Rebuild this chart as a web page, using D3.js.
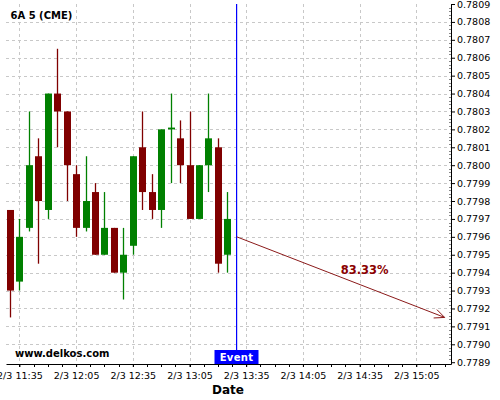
<!DOCTYPE html>
<html><head><meta charset="utf-8">
<script src="https://cdn.jsdelivr.net/npm/d3@7"></script>
<style>
html,body{margin:0;padding:0;background:#fff;}
svg{display:block;font-family:"DejaVu Sans",sans-serif;}
</style></head>
<body><svg id="c" width="500" height="400"></svg>
<script>
// ---- data ----
const title = "6A 5 (CME)";
const watermark = "www.delkos.com";
const times = ["11:30","11:35","11:40","11:45","11:50","11:55","12:00","12:05","12:10","12:15","12:20","12:25",
               "12:30","12:35","12:40","12:45","12:50","12:55","13:00","13:05","13:10","13:15","13:20","13:25"];
const opens  = [0.77975,0.77935,0.77965,0.78005,0.77975,0.78040,0.78030,0.77995,0.77965,0.77985,0.77950,0.77965,
                0.77940,0.77955,0.78010,0.77985,0.77975,0.78020,0.78015,0.78000,0.77970,0.78000,0.78010,0.77950];
const highs  = [0.77975,0.77970,0.78030,0.78015,0.78040,0.78065,0.78030,0.78000,0.78005,0.77990,0.77985,0.77965,
                0.77965,0.78005,0.78030,0.77995,0.78020,0.78040,0.78025,0.78030,0.78000,0.78040,0.78015,0.77985];
const lows   = [0.77915,0.77930,0.77963,0.77945,0.77970,0.78010,0.77980,0.77960,0.77963,0.77950,0.77950,0.77940,
                0.77925,0.77950,0.77975,0.77970,0.77965,0.77990,0.77990,0.77970,0.77970,0.77985,0.77940,0.77940];
const closes = [0.77930,0.77960,0.78000,0.77980,0.78040,0.78030,0.78000,0.77965,0.77980,0.77950,0.77965,0.77940,
                0.77950,0.78005,0.77985,0.77975,0.78020,0.78021,0.78000,0.77970,0.78000,0.78015,0.77945,0.77970];
const eventTime = "13:30";
const eventLabel = "Event";
const arrowStart = {time:"13:30", value:0.77960};
const arrowEnd   = {time:"15:20", value:0.77915};
const arrowLabel = "83.33%";
const xTickLabels = ["11:35","12:05","12:35","13:05","13:35","14:05","14:35","15:05"];
const yTickValues = [0.7789,0.7790,0.7791,0.7792,0.7793,0.7794,0.7795,0.7796,0.7797,0.7798,0.7799,
                     0.7800,0.7801,0.7802,0.7803,0.7804,0.7805,0.7806,0.7807,0.7808,0.7809];
const xDomain = ["11:27:54","15:23:22"];
const yDomain = [0.77889, 0.78090];

// ---- helpers ----
const day = (s)=>{const p=s.split(":").map(Number);return new Date(2015,1,3,p[0],p[1],p[2]||0);};
const plot={left:6,right:451,top:4,bottom:364};
const svg=d3.select("#c");
const x=d3.scaleTime().domain(xDomain.map(day)).range([plot.left,plot.right]);
const y=d3.scaleLinear().domain(yDomain).range([plot.bottom,plot.top]);
const RED="#800000", GREEN="#008000";

// grid
const grid=svg.append("g").attr("stroke","#c8c8c8").attr("stroke-dasharray","3,3").attr("stroke-width",1);
yTickValues.filter(v=>v>0.77895 && v<0.78085).forEach(v=>{
  const yy=Math.round(y(v))+0.5;
  grid.append("line").attr("x1",plot.left).attr("x2",plot.right).attr("y1",yy).attr("y2",yy);
});
xTickLabels.forEach(t=>{
  const xx=Math.round(x(day(t)))+0.5;
  grid.append("line").attr("x1",xx).attr("x2",xx).attr("y1",plot.top).attr("y2",plot.bottom);
});

// candles
const data=times.map((t,i)=>({t:day(t),o:opens[i],h:highs[i],l:lows[i],c:closes[i]}));
const bw=7;
const cg=svg.append("g");
data.forEach(d=>{
  const col=d.c>=d.o?GREEN:RED;
  const cx=Math.round(x(d.t))+0.5;
  cg.append("line").attr("x1",cx).attr("x2",cx).attr("y1",y(d.h)).attr("y2",y(d.l))
    .attr("stroke",col).attr("stroke-width",1.3);
  const top=y(Math.max(d.o,d.c)), bot=y(Math.min(d.o,d.c));
  cg.append("rect").attr("x",cx-bw/2).attr("width",bw).attr("y",top)
    .attr("height",Math.max(1.2,bot-top)).attr("fill",col);
});

// event line
const ex=Math.round(x(day(eventTime)))-0.5;
svg.append("rect").attr("x",ex-0.5).attr("y",plot.top).attr("width",1.2).attr("height",plot.bottom-plot.top)
  .attr("fill","#0000ff");

// arrow
const ax1=x(day(arrowStart.time)), ay1=y(arrowStart.value);
const ax2=x(day(arrowEnd.time)), ay2=y(arrowEnd.value);
const AC="#8b1a1a";
svg.append("line").attr("x1",ax1).attr("y1",ay1).attr("x2",ax2).attr("y2",ay2)
  .attr("stroke",AC).attr("stroke-width",1);
const ang=Math.atan2(ay2-ay1,ax2-ax1), hl=11, ha=0.42;
svg.append("path").attr("d",`M${ax2-hl*Math.cos(ang-ha)},${ay2-hl*Math.sin(ang-ha)}L${ax2},${ay2}L${ax2-hl*Math.cos(ang+ha)},${ay2-hl*Math.sin(ang+ha)}`)
  .attr("fill","none").attr("stroke",AC).attr("stroke-width",1);
svg.append("text").attr("x",(ax1+ax2)/2+24).attr("y",(ay1+ay2)/2-3).attr("text-anchor","middle")
  .attr("font-size","11.5px").attr("font-weight","bold").attr("fill","#8b0000").text(arrowLabel);

// y axis
const yAxis=d3.axisRight(y).tickValues(yTickValues).tickFormat(d3.format(".4f")).tickSize(4).tickPadding(2).tickSizeOuter(0);
const yg=svg.append("g").attr("transform",`translate(${plot.right},0)`).call(yAxis);
yg.select(".domain").attr("stroke","#000");
yg.selectAll("text").attr("font-size","9.5px").attr("font-family","DejaVu Sans").attr("fill","#000");
const yMinor=d3.range(Math.round(yDomain[0]*1e5)+1,Math.round(yDomain[1]*1e5)).filter(v=>v%2===0&&v%10!==0).map(v=>v/1e5);
yMinor.forEach(v=>{
  const yy=Math.round(y(v))+0.5;
  svg.append("line").attr("x1",plot.right-2).attr("x2",plot.right).attr("y1",yy).attr("y2",yy).attr("stroke","#888");
});

// x axis
const fmt=(d)=>`${d.getMonth()+1}/${d.getDate()} ${d3.timeFormat("%H:%M")(d)}`;
const xAxis=d3.axisBottom(x).tickValues(xTickLabels.map(day)).tickFormat(fmt).tickSize(3).tickPadding(5).tickSizeOuter(0);
const xg=svg.append("g").attr("transform",`translate(0,${plot.bottom})`).call(xAxis);
xg.select(".domain").attr("stroke","#000");
xg.selectAll("text").attr("font-size","9.5px").attr("font-family","DejaVu Sans").attr("fill","#000");
const xMinor=d3.range(0,32).map(i=>new Date(day("11:35").getTime()+i*450000)).filter(d=>x(d)<plot.right&&x(d)>plot.left);
xMinor.forEach(d=>{
  const xx=Math.round(x(d))+0.5;
  svg.append("line").attr("x1",xx).attr("x2",xx).attr("y1",plot.bottom).attr("y2",plot.bottom+3).attr("stroke","#000");
});

// event box
const eb=svg.append("g");
eb.append("rect").attr("x",ex-22).attr("y",plot.bottom-14).attr("width",44).attr("height",14).attr("fill","#0000ff");
eb.append("text").attr("x",ex).attr("y",plot.bottom-3.3).attr("text-anchor","middle").attr("fill","#fff")
  .attr("font-size","10px").attr("font-weight","bold").attr("letter-spacing","0.3px").text(eventLabel);

// texts
svg.append("text").attr("x",10.5).attr("y",19).attr("font-size","10px").attr("font-weight","bold").attr("fill","#000").text(title);
svg.append("text").attr("x",15).attr("y",357).attr("font-size","10px").attr("font-weight","bold").attr("fill","#000").text(watermark);
svg.append("text").attr("x",228).attr("y",393.5).attr("text-anchor","middle").attr("font-size","12px").attr("font-weight","bold").attr("fill","#000").text("Date");
</script></body></html>
